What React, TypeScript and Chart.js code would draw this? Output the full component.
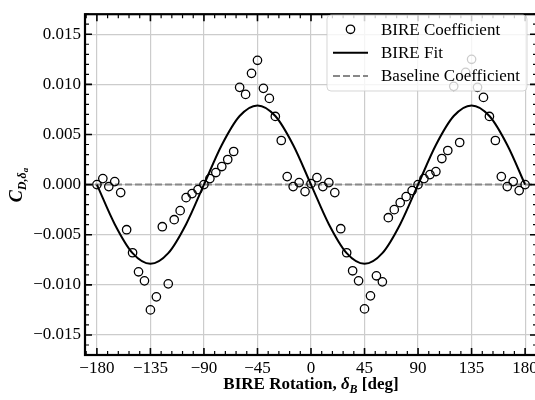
import React, { useEffect, useRef } from 'react';
import { Chart, registerables } from 'chart.js';

Chart.register(...registerables);

// ---------- data ----------
const angles = [
  -180, -175, -170, -165, -160, -155, -150, -145, -140, -135, -130, -125, -120,
  -115, -110, -105, -100, -95, -90, -85, -80, -75, -70, -65, -60, -55, -50, -45,
  -40, -35, -30, -25, -20, -15, -10, -5, 0, 5, 10, 15, 20, 25, 30, 35, 40, 45,
  50, 55, 60, 65, 70, 75, 80, 85, 90, 95, 100, 105, 110, 115, 120, 125, 130,
  135, 140, 145, 150, 155, 160, 165, 170, 175, 180,
];
const coefficient = [
  0.0, 0.0006, -0.0002, 0.0003, -0.0008, -0.0045, -0.0068, -0.0087, -0.0096, -0.0125, -0.0112, -0.0042, -0.0099,
  -0.0035, -0.0026, -0.0013, -0.0009, -0.0005, 0.0, 0.0006, 0.0012, 0.0018, 0.0025, 0.0033, 0.0097, 0.009, 0.0111, 0.0124,
  0.0096, 0.0086, 0.0068, 0.0044, 0.0008, -0.0002, 0.0002, -0.0007, 0.0001, 0.0007, -0.0002, 0.0002, -0.0008, -0.0044, -0.0068, -0.0086, -0.0096, -0.0124,
  -0.0111, -0.0091, -0.0097, -0.0033, -0.0025, -0.0018, -0.0012, -0.0006, 0.0, 0.0006, 0.001, 0.0013, 0.0026, 0.0034, 0.0098, 0.0042, 0.0112,
  0.0125, 0.0097, 0.0087, 0.0068, 0.0044, 0.0008, -0.0002, 0.0003, -0.0006, 0.0,
];
const fitAngles = [
  -180, -165, -150, -135, -120, -105, -90, -75, -60, -45, -30, -15, 0, 15, 30, 45,
  60, 75, 90, 105, 120, 135, 150, 165, 180,
];
const fitValues = [
  0.0, -0.00395, -0.00684, -0.0079, -0.00684, -0.00395, 0.0, 0.00395, 0.00684, 0.0079, 0.00684, 0.00395, 0.0,
  -0.00395, -0.00684, -0.0079, -0.00684, -0.00395, 0.0, 0.00395, 0.00684, 0.0079, 0.00684, 0.00395, 0.0,
];
const baselineAngles = [-190, 190];
const baselineValues = [0, 0];
const xTickValues = [-180, -135, -90, -45, 0, 45, 90, 135, 180];
const yTickValues = [-0.015, -0.01, -0.005, 0, 0.005, 0.01, 0.015];
const seriesLabels = ['BIRE Coefficient', 'BIRE Fit', 'Baseline Coefficient'];
const xTitle = ['BIRE Rotation, ', 'δ', 'B', ' [deg]'];
const yTitle = ['C', 'D,', 'δ', 'a'];

const FONT = '"Liberation Serif", "Times New Roman", serif';
const minus = (s: string) => s.replace('-', '\u2212');

type Part = { t: string; font: string; dy: number };

function drawRich(ctx: CanvasRenderingContext2D, parts: Part[], cx: number, baseY: number) {
  let total = 0;
  const widths = parts.map((p) => {
    ctx.font = p.font;
    const w = ctx.measureText(p.t).width;
    total += w;
    return w;
  });
  let x = cx - total / 2;
  ctx.textAlign = 'left';
  ctx.textBaseline = 'alphabetic';
  parts.forEach((p, i) => {
    ctx.font = p.font;
    ctx.fillText(p.t, x, baseY + p.dy);
    x += widths[i];
  });
}

const decorPlugin = {
  id: 'decor',
  afterDatasetsDraw(chart: any) {
    const { ctx, chartArea: a, scales } = chart;
    const xs = scales.x;
    const ys = scales.y;
    ctx.save();
    ctx.strokeStyle = '#000';
    const xTick = (v: number, len: number, w: number) => {
      const px = xs.getPixelForValue(v);
      ctx.lineWidth = w;
      ctx.beginPath();
      ctx.moveTo(px, a.bottom);
      ctx.lineTo(px, a.bottom - len);
      ctx.moveTo(px, a.top);
      ctx.lineTo(px, a.top + len);
      ctx.stroke();
    };
    const yTick = (v: number, len: number, w: number) => {
      const py = ys.getPixelForValue(v);
      ctx.lineWidth = w;
      ctx.beginPath();
      ctx.moveTo(a.left, py);
      ctx.lineTo(a.left + len, py);
      ctx.moveTo(a.right, py);
      ctx.lineTo(a.right - len, py);
      ctx.stroke();
    };
    for (let v = -189; v <= 189; v += 9) {
      if (v % 45 !== 0) xTick(v, 4, 1.2);
    }
    for (let k = -17; k <= 17; k++) {
      if (k % 5 !== 0) yTick(k / 1000, 4, 1.2);
    }
    xTickValues.forEach((v) => xTick(v, 7, 1.6));
    yTickValues.forEach((v) => yTick(v, 7, 1.6));
    ctx.lineWidth = 2.2;
    ctx.strokeRect(a.left, a.top, a.right - a.left, a.bottom - a.top);
    ctx.restore();
  },
  afterDraw(chart: any) {
    const { ctx, chartArea: a } = chart;
    ctx.save();
    // legend
    const lx = 327, ly = 15, lw = 200, lh = 76, r = 4;
    ctx.beginPath();
    ctx.moveTo(lx + r, ly);
    ctx.arcTo(lx + lw, ly, lx + lw, ly + lh, r);
    ctx.arcTo(lx + lw, ly + lh, lx, ly + lh, r);
    ctx.arcTo(lx, ly + lh, lx, ly, r);
    ctx.arcTo(lx, ly, lx + lw, ly, r);
    ctx.closePath();
    ctx.fillStyle = 'rgba(255,255,255,0.8)';
    ctx.fill();
    ctx.strokeStyle = 'rgba(204,204,204,0.8)';
    ctx.lineWidth = 1;
    ctx.stroke();
    const rows = [29.3, 52.7, 76];
    const ds = chart.data.datasets;
    // marker
    ctx.strokeStyle = '#000';
    ctx.lineWidth = 1.3;
    ctx.beginPath();
    ctx.arc(350.5, rows[0], 4.2, 0, Math.PI * 2);
    ctx.stroke();
    // fit line
    ctx.lineWidth = 2;
    ctx.beginPath();
    ctx.moveTo(333, rows[1]);
    ctx.lineTo(368, rows[1]);
    ctx.stroke();
    // baseline
    ctx.strokeStyle = '#888';
    ctx.setLineDash([7, 3]);
    ctx.beginPath();
    ctx.moveTo(333, rows[2]);
    ctx.lineTo(368, rows[2]);
    ctx.stroke();
    ctx.setLineDash([]);
    ctx.fillStyle = '#000';
    ctx.font = `17px ${FONT}`;
    ctx.textAlign = 'left';
    ctx.textBaseline = 'middle';
    ds.forEach((d: any, i: number) => ctx.fillText(d.label, 381, rows[i] + 1));

    // x title
    ctx.fillStyle = '#000';
    drawRich(
      ctx,
      [
        { t: xTitle[0], font: `bold 17px ${FONT}`, dy: 0 },
        { t: xTitle[1], font: `italic bold 17px ${FONT}`, dy: 0 },
        { t: xTitle[2], font: `italic bold 12px ${FONT}`, dy: 3.5 },
        { t: xTitle[3], font: `bold 17px ${FONT}`, dy: 0 },
      ],
      (a.left + a.right) / 2,
      389
    );
    // y title
    ctx.save();
    ctx.translate(22, 185);
    ctx.rotate(-Math.PI / 2);
    drawRich(
      ctx,
      [
        { t: yTitle[0], font: `italic bold 18px ${FONT}`, dy: 0 },
        { t: yTitle[1], font: `italic bold 12px ${FONT}`, dy: 3.5 },
        { t: yTitle[2], font: `italic bold 12px ${FONT}`, dy: 3.5 },
        { t: yTitle[3], font: `italic bold 9px ${FONT}`, dy: 6 },
      ],
      0,
      0
    );
    ctx.restore();
    ctx.restore();
  },
};

export default function App() {
  const ref = useRef<HTMLCanvasElement | null>(null);

  useEffect(() => {
    if (!ref.current) return;
    document.body.style.margin = '0';
    document.body.style.overflow = 'hidden';
    const chart = new Chart(ref.current, {
      type: 'scatter',
      data: {
        datasets: [
          {
            label: seriesLabels[0],
            data: angles.map((a, i) => ({ x: a, y: coefficient[i] })),
            showLine: false,
            pointStyle: 'circle',
            pointRadius: 4.2,
            pointBorderWidth: 1.3,
            borderColor: '#000',
            backgroundColor: 'rgba(0,0,0,0)',
            order: 1,
          },
          {
            label: seriesLabels[1],
            data: fitAngles.map((a, i) => ({ x: a, y: fitValues[i] })),
            showLine: true,
            cubicInterpolationMode: 'monotone',
            borderColor: '#000',
            borderWidth: 2,
            pointRadius: 0,
            order: 2,
          },
          {
            label: seriesLabels[2],
            data: baselineAngles.map((a, i) => ({ x: a, y: baselineValues[i] })),
            showLine: true,
            borderColor: '#888',
            borderWidth: 2,
            borderDash: [7, 3],
            pointRadius: 0,
            order: 3,
          },
        ],
      },
      options: {
        animation: false,
        responsive: false,
        events: [],
        layout: { padding: { top: 7, right: 8, left: 0, bottom: 0 } },
        plugins: { legend: { display: false }, tooltip: { enabled: false } },
        scales: {
          x: {
            type: 'linear',
            min: -190,
            max: 190,
            afterBuildTicks: (s: any) => {
              s.ticks = xTickValues.map((v) => ({ value: v }));
            },
            afterFit: (s: any) => {
              s.height = 45;
            },
            grid: { color: '#cccccc', lineWidth: 1.2, drawTicks: false },
            border: { display: false },
            ticks: {
              autoSkip: false,
              maxRotation: 0,
              padding: 3,
              color: '#000',
              font: { family: FONT, size: 17 },
              callback: (v: any) => minus(String(v)),
            },
          },
          y: {
            type: 'linear',
            min: -0.017,
            max: 0.017,
            afterBuildTicks: (s: any) => {
              s.ticks = yTickValues.map((v) => ({ value: v }));
            },
            afterFit: (s: any) => {
              s.width = 85;
            },
            grid: { color: '#cccccc', lineWidth: 1.2, drawTicks: false },
            border: { display: false },
            ticks: {
              padding: 4,
              color: '#000',
              font: { family: FONT, size: 17 },
              callback: (v: any) => minus(Number(v).toFixed(3)),
            },
          },
        },
      },
      plugins: [decorPlugin],
    } as any);
    return () => chart.destroy();
  }, []);

  return (
    <div style={{ position: 'fixed', left: 0, top: 0, width: 535, height: 400, overflow: 'hidden', background: '#fff' }}>
      <canvas ref={ref} width={545} height={400} style={{ display: 'block', width: 545, height: 400 }} />
    </div>
  );
}
